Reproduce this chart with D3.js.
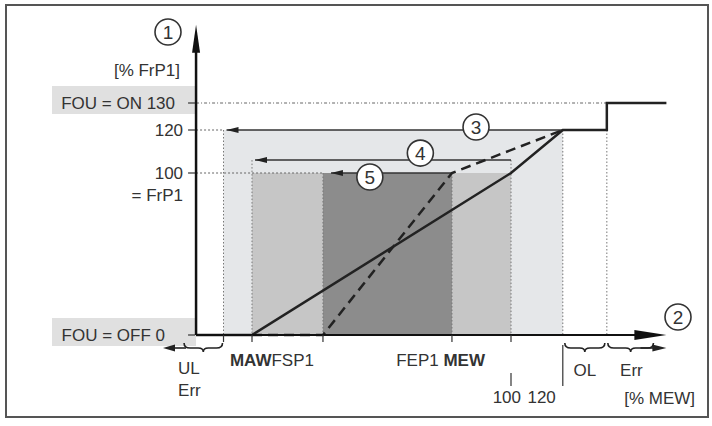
<!DOCTYPE html>
<html>
<head>
<meta charset="utf-8">
<script src="https://cdn.jsdelivr.net/npm/d3@7"></script>
<style>
  body { margin: 0; background: #fff; }
  svg { display: block; }
  text { font-family: "Liberation Sans", Arial, sans-serif; font-size: 17px; fill: #333; }
</style>
</head>
<body>
<svg width="712" height="426"></svg>
<script>
// x values in % MEW, y values in % FrP1
const xNames = ["UL", "MAW", "FSP1", "FEP1", "MEW", "120", "OL"];
const xValues = [-11, 0, 27.4, 77.2, 100, 120, 137];

const yTickValues = [0, 100, 120, 130];
const yTickLabels = ["FOU = OFF 0", "100", "120", "FOU = ON 130"];

// characteristic curves
const solidX = [-21.6, 0, 100, 120, 137, 137, 160];
const solidY = [0, 0, 100, 120, 120, 130, 130];
const dashedX = [0, 27.4, 77.2, 120];
const dashedY = [0, 0, 100, 120];

// zones 3, 4, 5
const zoneNames = ["3", "4", "5"];
const zoneStart = [-11, 0, 27.4];
const zoneEnd = [120, 100, 77.2];
const zoneTop = [120, 100, 100];
const zoneArrowY = [120, 106, 100];
const zoneLabelX = [86.5, 65, 45.5];

const svg = d3.select("svg");

const x = d3.scaleLinear().domain([0, 100]).range([252, 511]);
const y = d3.scaleLinear().domain([0, 100, 120, 130]).range([335, 173, 130, 103]);

const xAxisMin = -21.6, xAxisMax = 160, yAxisMax = 159;

// frame
svg.append("rect")
    .attr("x", 6).attr("y", 5).attr("width", 702).attr("height", 412)
    .attr("fill", "none").attr("stroke", "#555").attr("stroke-width", 2);

// grey label boxes
[130, 0].forEach(function(v) {
    svg.append("rect")
        .attr("x", 52).attr("y", y(v) - 17)
        .attr("width", x(xAxisMin) - 52).attr("height", 28)
        .attr("fill", "#e0e0e0");
});

// zones
const zoneColors = ["#e5e7e9", "#c6c6c6", "#8c8c8c"];
zoneNames.forEach(function(n, i) {
    svg.append("rect")
        .attr("x", x(zoneStart[i]))
        .attr("y", y(zoneTop[i]))
        .attr("width", x(zoneEnd[i]) - x(zoneStart[i]))
        .attr("height", y(0) - y(zoneTop[i]))
        .attr("fill", zoneColors[i]);
});

// dotted verticals
const vTops = [120, 106, 100, 100, 106, 120, 120];
xValues.forEach(function(v, i) {
    svg.append("line")
        .attr("x1", x(v)).attr("x2", x(v))
        .attr("y1", y(vTops[i])).attr("y2", y(0))
        .attr("stroke", "#777").attr("stroke-width", 1)
        .attr("stroke-dasharray", "1.5,2");
});

// dotted horizontals from y axis
const hEnds = [null, 27.4, -11, 137];
yTickValues.forEach(function(v, i) {
    if (hEnds[i] === null) return;
    svg.append("line")
        .attr("x1", x(xAxisMin)).attr("x2", x(hEnds[i]))
        .attr("y1", y(v)).attr("y2", y(v))
        .attr("stroke", "#666").attr("stroke-width", 1)
        .attr("stroke-dasharray", i === 3 ? "3,2,1,2" : "2,2");
});

// zone range lines with arrows
zoneNames.forEach(function(n, i) {
    const x0 = x(zoneStart[i]) + (i === 2 ? 8 : 3), x1 = x(zoneEnd[i]), yy = y(zoneArrowY[i]);
    svg.append("line")
        .attr("x1", x0).attr("x2", x1).attr("y1", yy).attr("y2", yy)
        .attr("stroke", "#333").attr("stroke-width", 1.5);
    svg.append("path")
        .attr("d", `M${x0},${yy} l12,-3 l0,6 z`)
        .attr("fill", "#222");
});

// curves
const line = d3.line().x(d => x(d[0])).y(d => y(d[1]));
svg.append("path")
    .attr("d", line(dashedX.map((v, i) => [v, dashedY[i]])))
    .attr("fill", "none").attr("stroke", "#222").attr("stroke-width", 2.5)
    .attr("stroke-dasharray", "10,6");
svg.append("path")
    .attr("d", line(solidX.map((v, i) => [v, solidY[i]])))
    .attr("fill", "none").attr("stroke", "#222").attr("stroke-width", 2.5);

// axes
const ax = x(xAxisMin), ay = y(0);
svg.append("line")
    .attr("x1", ax).attr("x2", ax).attr("y1", ay).attr("y2", y(yAxisMax) + 20)
    .attr("stroke", "#111").attr("stroke-width", 2.5);
svg.append("path")
    .attr("d", `M${ax},${y(yAxisMax)} l-4,28 l8,0 z`).attr("fill", "#111");
svg.append("line")
    .attr("x1", ax).attr("x2", x(xAxisMax) - 20).attr("y1", ay).attr("y2", ay)
    .attr("stroke", "#111").attr("stroke-width", 2);
svg.append("path")
    .attr("d", `M${x(xAxisMax)},${ay} l-32,-5 l0,10 z`).attr("fill", "#111");

// y ticks and labels
yTickValues.forEach(function(v, i) {
    svg.append("line")
        .attr("x1", ax - 8).attr("x2", ax - 1).attr("y1", y(v)).attr("y2", y(v))
        .attr("stroke", "#333").attr("stroke-width", 1.2);
    const boxed = i === 0 || i === 3;
    svg.append("text")
        .attr("x", boxed ? ax - (i === 0 ? 31 : 21) : ax - 13)
        .attr("y", y(v) + 6)
        .attr("text-anchor", "end")
        .text(yTickLabels[i]);
});
svg.append("text").attr("x", ax - 13).attr("y", y(100) + 28)
    .attr("text-anchor", "end").text("= FrP1");
svg.append("text").attr("x", ax - 16).attr("y", 76)
    .attr("text-anchor", "end").text("[% FrP1]");

// x ticks
xValues.forEach(function(v, i) {
    if (i >= 5) return;
    svg.append("line")
        .attr("x1", x(v)).attr("x2", x(v)).attr("y1", ay).attr("y2", ay + 7)
        .attr("stroke", "#333").attr("stroke-width", 1.2);
});
svg.append("line").attr("x1", x(100)).attr("x2", x(100)).attr("y1", 373).attr("y2", 386)
    .attr("stroke", "#333").attr("stroke-width", 1.2);
svg.append("line").attr("x1", x(120)).attr("x2", x(120)).attr("y1", ay + 10).attr("y2", 386)
    .attr("stroke", "#333").attr("stroke-width", 1.2);

// x labels
const t1 = svg.append("text").attr("x", x(27.4) - 9).attr("y", 366).attr("text-anchor", "end");
t1.append("tspan").attr("font-weight", "bold").text("MAW");
t1.append("tspan").text("FSP1");
const t2 = svg.append("text").attr("x", x(100) - 26).attr("y", 366).attr("text-anchor", "end");
t2.append("tspan").text("FEP1 ");
t2.append("tspan").attr("font-weight", "bold").text("MEW");
svg.append("text").attr("x", x(100) + 10).attr("y", 403).attr("text-anchor", "end").text("100");
svg.append("text").attr("x", x(120) - 7).attr("y", 403).attr("text-anchor", "end").text("120");

// braces
function brace(xa, xb, yy) {
    const m = (xa + xb) / 2;
    return `M${xa},${yy - 5} Q${xa},${yy} ${xa + 6},${yy} L${m - 5},${yy} Q${m},${yy} ${m},${yy + 4}` +
        ` Q${m},${yy} ${m + 5},${yy} L${xb - 6},${yy} Q${xb},${yy} ${xb},${yy - 5}`;
}
const by = ay + 13;
// UL brace with arrow to the left
svg.append("path").attr("d", brace(ax - 12, x(-11) - 1, by))
    .attr("fill", "none").attr("stroke", "#222").attr("stroke-width", 1.6);
svg.append("line").attr("x1", 172).attr("x2", ax - 10).attr("y1", by).attr("y2", by)
    .attr("stroke", "#222").attr("stroke-width", 1.6);
svg.append("path").attr("d", `M163,${by} l12,-3.5 l0,7 z`).attr("fill", "#222");
// OL brace
svg.append("path").attr("d", brace(x(120) + 2, x(137) - 2, by))
    .attr("fill", "none").attr("stroke", "#222").attr("stroke-width", 1.6);
// Err brace with arrow to the right
svg.append("path").attr("d", brace(x(137) + 1, x(155), by))
    .attr("fill", "none").attr("stroke", "#222").attr("stroke-width", 1.6);
svg.append("line").attr("x1", x(150)).attr("x2", x(xAxisMax) - 10).attr("y1", by).attr("y2", by)
    .attr("stroke", "#222").attr("stroke-width", 1.6);
svg.append("path").attr("d", `M${x(xAxisMax)},${by} l-14,-3.5 l0,7 z`).attr("fill", "#222");

svg.append("text").attr("x", ax - 18).attr("y", 374).text("UL");
svg.append("text").attr("x", ax - 18).attr("y", 396).text("Err");
svg.append("text").attr("x", x(128.5)).attr("y", 376).attr("text-anchor", "middle").text("OL");
svg.append("text").attr("x", x(146.5)).attr("y", 376).attr("text-anchor", "middle").text("Err");
svg.append("text").attr("x", 695).attr("y", 404).attr("text-anchor", "end").text("[% MEW]");

// numbered circles
function bubble(cx, cy, label) {
    svg.append("circle").attr("cx", cx).attr("cy", cy).attr("r", 13)
        .attr("fill", "#fff").attr("stroke", "#333").attr("stroke-width", 1.6);
    svg.append("text").attr("x", cx).attr("y", cy + 7)
        .attr("text-anchor", "middle").style("font-size", "19px").text(label);
}
zoneNames.forEach(function(n, i) {
    bubble(x(zoneLabelX[i]), y(zoneArrowY[i]) + (i === 0 ? -3 : i === 1 ? -7 : 4), n);
});
bubble(168, 32, "1");
bubble(678, 317, "2");
</script>
</body>
</html>
